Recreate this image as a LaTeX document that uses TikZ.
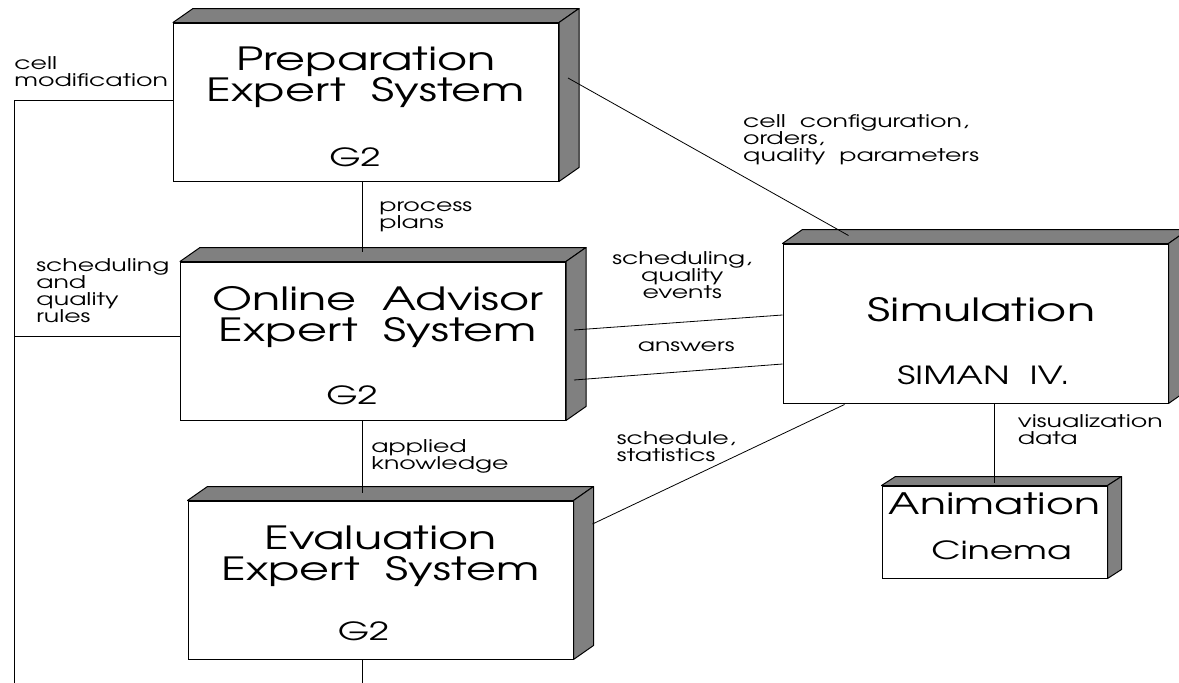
\documentclass[tikz,border=0pt]{standalone}
\usepackage{fontspec}
\setmainfont{texgyreadventor-regular.otf}[FakeStretch=1.44]
\usepackage{tikz}
\usetikzlibrary{calc,positioning}
\tikzset{
  block/.style     = {draw, line width=1pt, fill=white, inner sep=0pt, minimum width=385pt, minimum height=158pt},
  smallblock/.style= {block, minimum width=225pt, minimum height=92pt},
  face/.style      = {draw, line width=1pt, fill=gray, line join=round},
  title/.style     = {align=center, inner sep=0pt, font=\fontsize{32}{31}\selectfont},
  tool/.style      = {inner sep=0pt, font=\fontsize{25}{27}\selectfont},
  tag/.style       = {align=left, inner sep=0pt, font=\fontsize{17.5}{17}\selectfont},
  line/.style      = {line width=0.8pt},
}
% grey top and side of a block
\newcommand\slab[3]{%
  \draw[face] (#1.north west) -- ++(#2,-#3) -- ($(#1.north east)+(#2,-#3)$) -- (#1.north east) -- cycle;
  \draw[face] (#1.north east) -- ($(#1.north east)+(#2,-#3)$) -- ($(#1.south east)+(#2,-#3)$) -- (#1.south east) -- cycle;
}

\begin{document}
\begin{tikzpicture}[x=1pt, y=-1pt]
    \useasboundingbox (0,0) rectangle (1179,683);

    % Expert systems (G2)
    \node[block] (prep) at (366,102) {};
    \slab{prep}{20}{14}
    \node[title, below=24pt of prep.north] (prepname) {Preparation\\Expert~ System};
    \node[tool, above=14pt of prep.south, xshift=-11pt] (prepg2) {G2};

    \node[block] (online) at (373,341) {};
    \slab{online}{20}{14}
    \node[title, below=25pt of online.north, xshift=5pt] (onlinename) {Online~ Advisor\\Expert~ System};
    \node[tool, above=15pt of online.south, xshift=-21pt] (onlineg2) {G2};

    \node[block] (eval) at (380.5,580) {};
    \slab{eval}{20}{14}
    \node[title, below=25pt of eval.north] (evalname) {Evaluation\\Expert~ System};
    \node[tool, above=18pt of eval.south, xshift=-17pt] (evalg2) {G2};

    % Simulation and animation
    \node[block, minimum height=159pt] (sim) at (975.5,323.5) {};
    \slab{sim}{20}{14}
    \node[title, below=54pt of sim.north, xshift=6pt] (simname) {Simulation};
    \node[tool, above=18pt of sim.south, xshift=8pt] (siman) {SIMAN~ IV.};

    \node[smallblock] (anim) at (994.5,532) {};
    \slab{anim}{14}{9}
    \node[title, font=\fontsize{29.5}{30}\selectfont, below=7pt of anim.north] (animname) {Animation};
    \node[tool, above=18pt of anim.south, xshift=7pt] (cinema) {Cinema};

    % Edges: knowledge chain
    \coordinate (spine) at (362,0);
    \coordinate (evalout) at (362,690);
    \draw[line] (prep.south -| spine) -- ($(online.north -| spine)+(0,-10)$)
      node[tag, midway, right=17pt] (plans) {process\\plans};
    \draw[line] (online.south -| spine) -- ($(eval.north -| spine)+(0,-8)$)
      node[tag, midway, right=9pt] (knowledge) {applied\\knowledge};
    \draw[line] (eval.south -| spine) -- (evalout);

    % Edges: feedback bus on the left
    \coordinate (bustop) at (14,100);
    \coordinate (busend) at (14,690);
    \coordinate (rulesin) at ($(online.west)+(0,-5)$);
    \draw[line] (prep.west |- bustop) -- (bustop)
      node[tag, anchor=south west, yshift=13pt] (cellmod) {cell\\modification} -- (busend);
    \draw[line] (rulesin) -- (rulesin -| bustop)
      node[tag, anchor=south west, xshift=22pt, yshift=13pt] (rules) {scheduling\\and\\quality\\rules};

    % Edges: simulation link
    \draw[line] ($(prep.east)+(9,-24)$) -- ($(sim.north west)+(66,-8)$)
      node[tag, pos=.623, anchor=south west, yshift=11pt] (cellconf) {cell~ configuration,\\orders,\\quality~ parameters};
    \draw[line] ($(online.east)+(8,-11)$) -- ($(sim.west)+(0,-8.5)$)
      node[tag, align=center, midway, above=23pt, xshift=4pt] (events) {scheduling,\\quality\\events};
    \draw[line] ($(online.east)+(8,39)$) -- ($(sim.west)+(0,40.5)$)
      node[tag, midway, above=20pt, xshift=8pt] (answers) {answers};
    \draw[line] ($(sim.south west)+(62,1)$) -- ($(eval.east)+(19,-56)$)
      node[tag, pos=.43, anchor=south east, yshift=-6pt] (stats) {schedule,\\statistics};
    \draw[line] (sim.south -| anim) -- ($(anim.north)+(0,-3)$)
      node[tag, pos=.33, right=23pt] (visdata) {visualization\\data};
  \end{tikzpicture}
\end{document}
